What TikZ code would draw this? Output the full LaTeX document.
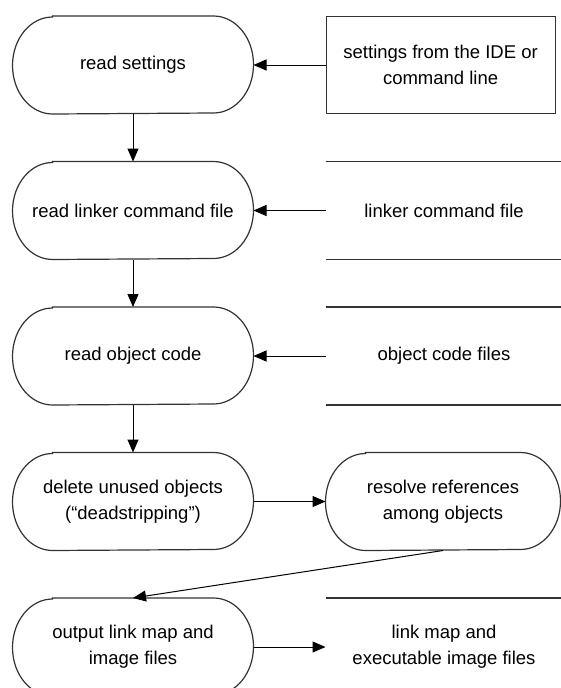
\documentclass[tikz,border=0pt]{standalone}
\usepackage{fontspec}
\setmainfont{Liberation Sans}
\usetikzlibrary{arrows.meta,positioning}

\begin{document}
\begin{tikzpicture}[->,>={Triangle[length=13pt,width=11pt]},line width=1pt,
		node distance=47.5pt and 72pt,font=\fontsize{18.5}{26}\selectfont]
		\tikzstyle{stage}=[minimum width=240pt,minimum height=97pt,align=center,inner sep=0pt]
		\tikzstyle{source}=[minimum width=236pt,minimum height=97pt,align=center,inner sep=0pt]
		\tikzstyle{outline}=[-,draw=black!80,line width=1.2pt]
		\useasboundingbox (0,0) rectangle (561pt,-688pt);
		\node[stage]         (A) at (133pt,-65pt) {read settings};
		\node[stage]         (B) [below=of A]     {read linker command file};
		\node[stage]         (C) [below=of B]     {read object code};
		\node[stage]         (D) [below=of C]     {delete unused objects\\(“deadstripping”)};
		\node[stage]         (E) [below=of D]     {output link map and\\image files};
		\node[source,draw=black!80,line width=1.2pt,minimum width=229pt]
		                     (F) [right=of A]     {settings from the IDE or\\command line};
		\node[source]        (G) [right=of B]     {linker command file};
		\node[source]        (H) [right=of C]     {object code files};
		\node[stage,minimum width=234pt]
		                     (R) [right=of D]     {resolve references\\among objects};
		\node[source]        (I) [right=of E]     {link map and\\executable image files};
		% stadium outlines with elliptical ends
		\foreach \n in {A,B,C,D,E,R}
			\draw[outline] ([xshift=40pt]\n.north west) -- ([xshift=-40pt]\n.north east)
				arc[start angle=90,end angle=-90,x radius=40pt,y radius=48.5pt]
				-- ([xshift=40pt]\n.south west)
				arc[start angle=270,end angle=90,x radius=40pt,y radius=48.5pt] -- cycle;
		% file symbols
		\foreach \n in {G,H,I}
			\draw[outline] (\n.north west) -- (\n.north east)
				(\n.south west) -- (\n.south east);
		\path (F) edge (A)
		      (G) edge (B)
		      (H) edge (C)
		      (A) edge (B)
		      (B) edge (C)
		      (C) edge (D)
		      (D) edge (R)
		      (R.south) edge (E.north)
		      (E) edge (I.west);
	\end{tikzpicture}
\end{document}
